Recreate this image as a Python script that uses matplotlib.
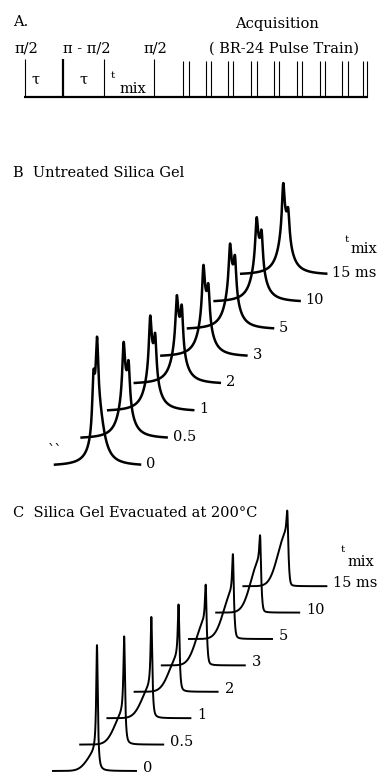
import numpy as np
import matplotlib.pyplot as plt

# mixing times (labels next to each trace)
tmix = ["0", "0.5", "1", "2", "3", "5", "10", "15 ms"]

# B: untreated silica gel - doublet on a broad lorentzian
b_peak = [131, 97, 96, 89, 92, 86, 85, 92]
b_second = [96, 78, 78, 79, 73, 74, 72, 67]
b_split = [-3.5, 5, 5, 5, 5, 5, 5, 5]
b_broad = [55, 48, 48, 48, 48, 48, 48, 48]

# C: evacuated at 200 C - sharp line with a broad shoulder on the left
c_peak = [126, 108, 101, 87, 80, 84, 76, 74]
c_broad = [18, 30, 30, 33, 43, 45, 50, 52]

# A: pulse sequence (pulse positions)
prep_pulses = [25, 63, 104, 154]
train_pulses = [183, 189, 206, 211, 228, 233, 251, 257, 274, 279,
                297, 302, 320, 325, 342, 348, 363, 367]


def lor(d, h, c, g):
    return h / (1 + ((d - c) / g) ** 2)


def shape_b(d, peak, second, split, broad):
    g, gb = 1.5, 6.5
    base = lor(d, broad, 1.5, gb)
    n2 = second - lor(split, broad, 1.5, gb)
    n1 = peak - lor(0, broad, 1.5, gb) - lor(0, n2, split, g)
    n2 = n2 - lor(split, n1, 0, g)
    return base + lor(d, n1, 0, g) + lor(d, n2, split, g)


def shape_c(d, peak, broad):
    c = -1.0
    s = np.where(d < c, 8.5, 1.6)
    hump = broad * np.exp(-(d - c) ** 2 / (2 * s ** 2))
    n = peak - broad * np.exp(-1 / (2 * 1.6 ** 2))
    return hump + lor(d, n, 0, 0.9)


fig = plt.figure(figsize=(3.87, 7.83), dpi=100)
ax = fig.add_axes([0, 0, 1, 1])
ax.set_xlim(0, 387)
ax.set_ylim(783, 0)
ax.axis('off')

fs = 10.5
font = dict(family='DejaVu Serif', fontsize=fs, color='black')
small = dict(family='DejaVu Serif', fontsize=7.5, color='black')

# ---- A ----
ax.text(13, 22, "A.", ha='left', va='center', **font)
ax.text(26, 49, "\u03c0/2", ha='center', va='center', **font)
ax.text(87, 49, "\u03c0 - \u03c0/2", ha='center', va='center', **font)
ax.text(155, 49, "\u03c0/2", ha='center', va='center', **font)
ax.text(277, 24, "Acquisition", ha='center', va='center', **font)
ax.text(284, 49, "( BR-24 Pulse Train)", ha='center', va='center', **font)
ax.text(35, 80, "\u03c4", ha='center', va='center', **font)
ax.text(83, 80, "\u03c4", ha='center', va='center', **font)
ax.text(113, 76, "t", ha='center', va='center', **small)
ax.text(133, 89, "mix", ha='center', va='center', **font)

ax.plot([24, 368], [97, 97], color='black', lw=1.6, solid_capstyle='butt')
for i, x in enumerate(prep_pulses):
    ax.vlines(x, 59, 97, color='black', lw=1.6 if i == 1 else 0.8)
ax.vlines(train_pulses, 61, 97, color='black', lw=0.8)

# ---- B ----
ax.text(13, 173, "B  Untreated Silica Gel", ha='left', va='center', **font)
x0, dx, y0, dy = 97, 26.6, 466, 27.3
d = np.linspace(-42, 43, 900)
for i in range(len(tmix)):
    xb = x0 + i * dx
    yb = y0 - i * dy
    ys = shape_b(d, b_peak[i], b_second[i], b_split[i], b_broad[i])
    ax.plot(xb + d, yb - ys, color='black', lw=1.8)
    ax.text(xb + 43 + 6, yb - 2, tmix[i], ha='left', va='center', **font)
ax.text(347, 240, "t", ha='center', va='center', **small)
ax.text(364, 249, "mix", ha='center', va='center', **font)
ax.text(55, 451, "``", ha='center', va='center', **font)

# ---- C ----
ax.text(13, 513, "C  Silica Gel Evacuated at 200\u00b0C", ha='left', va='center', **font)
x0, dx, y0, dy = 97, 27.2, 771, 26.4
d = np.linspace(-44, 39, 900)
for i in range(len(tmix)):
    xb = x0 + i * dx
    yb = y0 - i * dy
    ys = shape_c(d, c_peak[i], c_broad[i])
    ax.plot(xb + d, yb - ys, color='black', lw=1.4)
    ax.text(xb + 39 + 7, yb - 3, tmix[i], ha='left', va='center', **font)
ax.text(343, 550, "t", ha='center', va='center', **small)
ax.text(361, 562, "mix", ha='center', va='center', **font)

fig.savefig("out.png", dpi=100)
